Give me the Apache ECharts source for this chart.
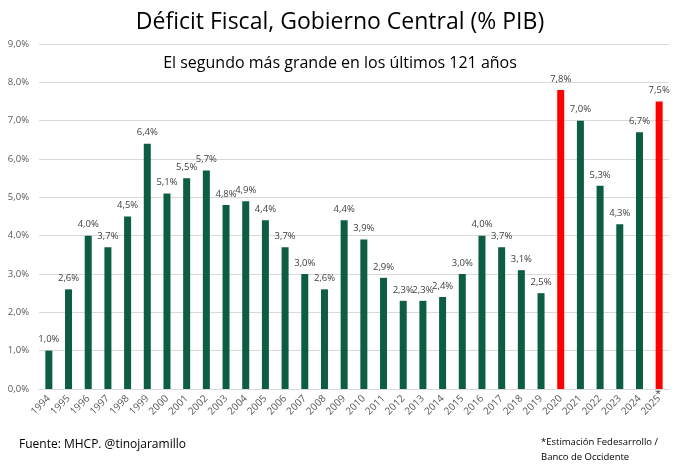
<!DOCTYPE html>
<html>
<head>
<meta charset="utf-8">
<script src="https://cdn.jsdelivr.net/npm/echarts@6/dist/echarts.min.js"></script>
<style>
  html, body { margin: 0; padding: 0; background: #fff; }
  #chart { width: 680px; height: 466px; }
</style>
</head>
<body>
<div id="chart"></div>
<script>
// años y déficit (% PIB)
var years = ['1994','1995','1996','1997','1998','1999','2000','2001','2002','2003','2004','2005','2006','2007','2008','2009','2010','2011','2012','2013','2014','2015','2016','2017','2018','2019','2020','2021','2022','2023','2024','2025'];
var deficit = [1.0, 2.6, 4.0, 3.7, 4.5, 6.4, 5.1, 5.5, 5.7, 4.8, 4.9, 4.4, 3.7, 3.0, 2.6, 4.4, 3.9, 2.9, 2.3, 2.3, 2.4, 3.0, 4.0, 3.7, 3.1, 2.5, 7.8, 7.0, 5.3, 4.3, 6.7, 7.5];
var redYears = ['2020', '2025']; // barras resaltadas

var green = '#0b5e40', red = '#ff0000';
var font = '"Open Sans", sans-serif';

function pct(v) { return v.toFixed(1).replace('.', ',') + '%'; }

var myChart = echarts.init(document.getElementById('chart'));
var option = {
  animation: false,
  title: [{
    text: 'Déficit Fiscal, Gobierno Central (% PIB)',
    left: 'center', top: 6,
    textStyle: { fontFamily: font, fontSize: 23, fontWeight: 'normal', color: '#000' }
  }, {
    text: 'El segundo más grande en los últimos 121 años',
    left: 'center', top: 50,
    textStyle: { fontFamily: font, fontSize: 16, fontWeight: 'normal', color: '#000' }
  }, {
    text: 'Fuente: MHCP. @tinojaramillo',
    left: 14, top: 434,
    textStyle: { fontFamily: font, fontSize: 12, fontWeight: 'normal', color: '#000' }
  }, {
    text: '*Estimación Fedesarrollo /\nBanco de Occidente',
    left: 536, top: 430,
    textStyle: { fontFamily: font, fontSize: 9.5, fontWeight: 'normal', color: '#000', lineHeight: 15 }
  }],
  grid: { left: 39, right: 11, top: 44, bottom: 77, containLabel: false },
  graphic: [{
    type: 'text', left: 655, top: 388,
    style: { text: '*', fontFamily: font, fontSize: 11, fill: '#404040' }
  }],
  xAxis: {
    type: 'category',
    data: years,
    axisTick: { show: false },
    axisLine: { lineStyle: { color: '#d9d9d9' } },
    axisLabel: {
      interval: 0, rotate: 45, margin: 8,
      fontFamily: font, fontSize: 10, color: '#595959'
    }
  },
  yAxis: {
    type: 'value',
    min: 0, max: 9, interval: 1,
    axisLine: { show: false },
    axisTick: { show: false },
    splitLine: { lineStyle: { color: '#d9d9d9' } },
    axisLabel: {
      fontFamily: font, fontSize: 9.5, color: '#595959', margin: 10,
      formatter: function (v) { return pct(v); }
    }
  },
  series: [{
    type: 'bar',
    barWidth: 7,
    data: deficit.map(function (v, i) {
      return { value: v, itemStyle: { color: redYears.indexOf(years[i]) >= 0 ? red : green } };
    }),
    label: {
      show: true, position: 'top', distance: 6,
      fontFamily: font, fontSize: 9.5, color: '#404040',
      formatter: function (p) { return pct(p.value); }
    }
  }]
};
myChart.setOption(option);
</script>
</body>
</html>
